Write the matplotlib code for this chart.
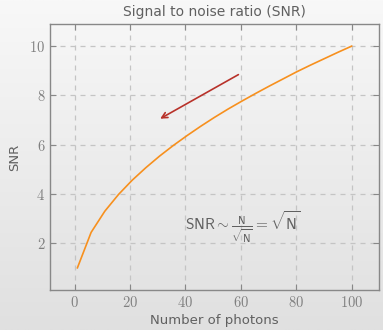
import numpy as np
import matplotlib
matplotlib.use("Agg")
import matplotlib.pyplot as plt

plt.rcParams['mathtext.fontset'] = 'cm'

# data
photons = [1, 5.95, 10.9, 15.85, 20.8, 25.75, 30.7, 35.65, 40.6, 45.55, 50.5,
           55.45, 60.4, 65.35, 70.3, 75.25, 80.2, 85.15, 90.1, 95.05, 100]
snr = [1.00, 2.44, 3.30, 3.98, 4.56, 5.07, 5.54, 5.97, 6.37, 6.75, 7.11,
       7.45, 7.77, 8.08, 8.38, 8.67, 8.96, 9.23, 9.49, 9.75, 10.00]
x_ticks = [0, 20, 40, 60, 80, 100]
y_ticks = [2, 4, 6, 8, 10]
arrow_start = (60, 8.9)
arrow_end = (30, 7.0)

fig = plt.figure(figsize=(3.83, 3.30), dpi=100)

# gradient backdrop
bg = fig.add_axes([0, 0, 1, 1], zorder=-10)
grad = np.linspace(0, 1, 256).reshape(-1, 1)
bg.imshow(grad, aspect='auto', cmap=matplotlib.colors.LinearSegmentedColormap.from_list(
    'bgg', ['#f8f8f8', '#e0e0e0']), extent=[0, 1, 0, 1], origin='upper')
bg.axis('off')

ax = fig.add_axes([50 / 383, 1 - 290 / 330, 329 / 383, 266 / 330])
ax.patch.set_alpha(0)

ax.plot(photons, snr, color='#f7901e', lw=1.2)
ax.annotate('', xy=arrow_end, xytext=arrow_start,
            arrowprops=dict(arrowstyle='->', color='#b8322a', lw=1.2))
ax.text(60.8, 2.65, r'$\mathsf{SNR} \sim \frac{\mathsf{N}}{\sqrt{\mathsf{N}}} = \sqrt{\mathsf{N}}$',
        ha='center', va='center', fontsize=11, color='#606060')

ax.set_xlim(-8.9, 109.9)
ax.set_ylim(0.1, 10.9)
ax.set_xticks(x_ticks)
ax.set_yticks(y_ticks)
ax.set_xticklabels(['$%d$' % v for v in x_ticks])
ax.set_yticklabels(['$%d$' % v for v in y_ticks])
ax.grid(True, ls=(0, (4, 4)), color='#c4c4c4', lw=0.9)
ax.tick_params(direction='in', length=4, color='#888888', labelcolor='#808080',
               labelsize=10.5, top=True, right=True)
for s in ax.spines.values():
    s.set_color('#888888')
    s.set_linewidth(1.0)

ax.set_title('Signal to noise ratio (SNR)', fontsize=10, color='#606060', pad=6)
ax.set_xlabel('Number of photons', fontsize=9.5, color='#606060', labelpad=3)
ax.set_ylabel('SNR', fontsize=9.5, color='#606060', labelpad=6)

fig.savefig('out.png', dpi=100)
